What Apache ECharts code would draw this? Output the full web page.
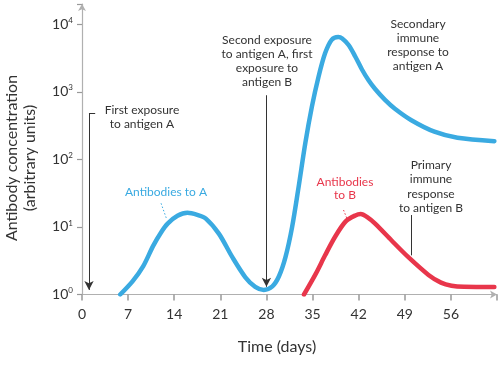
<!DOCTYPE html>
<html><head><meta charset="utf-8">
<script src="https://cdn.jsdelivr.net/npm/echarts@6/dist/echarts.min.js"></script>
<style>html,body{margin:0;padding:0;background:#fff}#c{width:500px;height:365px}</style>
</head><body><div id="c"></div>
<script>
// ---- data (days, antibody concentration in arbitrary units) ----
const xTickValues = [0, 7, 14, 21, 28, 35, 42, 49, 56];
const xTickLabels = ['0', '7', '14', '21', '28', '35', '42', '49', '56'];
const yTickValues = [1, 10, 100, 1000, 10000];
const yTickExponents = ['0', '1', '2', '3', '4'];

const antibodiesA = [
  [5.8, 1.0], [7.7, 1.58], [9.3, 2.63], [10.8, 5.25], [12.0, 8.3], [13.0, 11.2],
  [14.5, 14.6], [16.0, 16.2], [17.5, 15.1], [18.8, 13.3], [20.8, 7.9], [22.8, 3.6],
  [24.8, 1.8], [26.3, 1.3], [27.6, 1.17], [28.9, 1.32], [29.9, 1.86], [30.9, 3.6],
  [31.9, 10], [32.9, 40], [33.9, 174], [34.9, 603], [35.9, 1660], [36.9, 3715],
  [37.9, 5890], [38.9, 6460], [39.5, 6170], [40.5, 4900], [41.5, 3310], [42.5, 2140],
  [43.5, 1480], [44.5, 1100], [46.0, 760], [47.5, 562], [50.0, 380], [53.5, 257],
  [57.0, 209], [62.6, 186]
];
const antibodiesB = [
  [33.7, 1.0], [35.5, 2.04], [36.9, 3.8], [38.4, 7.1], [40.0, 12.0], [41.5, 14.8],
  [42.3, 15.5], [43.3, 14.0], [44.5, 11.2], [47.0, 6.3], [49.5, 3.6], [52.6, 1.95],
  [54.5, 1.5], [56.1, 1.35], [58.0, 1.3], [62.6, 1.29]
];

// annotation anchors in data space [day, concentration]
const firstExposureArrow = [[1.06, 480], [1.06, 1.17]];
const firstExposureHook = [[1.06, 480], [2.0, 480]];
const secondExposureArrow = [[28.0, 890], [28.0, 1.3]];
const primaryBLeader = [[50.0, 15], [50.0, 3.8]];
const labelALeader = [[12.0, 22.4], [12.8, 13.5]];
const labelBLeader = [[39.7, 17.8], [40.2, 13.5]];

const BLUE = '#3aaae1';
const RED = '#e8364b';
const INK = '#333333';
const FONT = 'Lato';

const chart = echarts.init(document.getElementById('c'));

function seg(pts, withArrow, style) {
  const a = { coord: pts[0], symbol: 'none' };
  const b = { coord: pts[1], symbol: withArrow ? 'arrow' : 'none' };
  if (style) { a.lineStyle = style; b.lineStyle = style; }
  return [a, b];
}

const supMap = {};
yTickValues.forEach((v, i) => { supMap[v] = yTickExponents[i]; });

const markLineBase = {
  silent: true, animation: false, symbolSize: [7, 9],
  label: { show: false },
  lineStyle: { color: INK, width: 1, type: 'solid' },
  emphasis: { disabled: true }
};

chart.setOption({
  animation: false,
  backgroundColor: '#fff',
  grid: { left: 82, right: 1, top: 4, bottom: 70.5, containLabel: false },
  xAxis: {
    type: 'value', min: 0, max: 63, interval: 7,
    axisLine: { show: true, lineStyle: { color: '#b0b0b0', width: 1.2 },
      symbol: ['none', 'arrow'], symbolSize: [6, 7] },
    axisTick: { show: true, inside: false, length: 6, lineStyle: { color: '#999', width: 1.5 } },
    axisLabel: {
      margin: 13, color: INK, fontFamily: FONT, fontSize: 14,
      formatter: v => { const i = xTickValues.indexOf(v); return i >= 0 ? xTickLabels[i] : ''; }
    },
    splitLine: { show: false }
  },
  yAxis: {
    type: 'log', logBase: 10, min: 1, max: 19953,
    axisLine: { show: true, lineStyle: { color: '#b0b0b0', width: 1.2 },
      symbol: ['none', 'arrow'], symbolSize: [6, 7] },
    axisTick: { show: true, length: 5, lineStyle: { color: '#999', width: 1.2 } },
    axisLabel: {
      margin: 9, color: INK, fontFamily: FONT, fontSize: 14,
      formatter: v => {
        const key = Math.round(v);
        const e = Math.log10(v);
        if (Math.abs(e - Math.round(e)) > 0.01 || supMap[key] === undefined) return '';
        return '10{s|' + supMap[key] + '}';
      },
      rich: { s: { fontSize: 8, fontFamily: FONT, color: INK, padding: [0, 0, 8, 0] } }
    },
    splitLine: { show: false }
  },
  series: [
    {
      name: 'Antibodies to A', type: 'line', data: antibodiesA, smooth: 0.3,
      showSymbol: false, symbol: 'none', silent: true,
      lineStyle: { color: BLUE, width: 4.5, cap: 'round', join: 'round' },
      markLine: Object.assign({}, markLineBase, {
        data: [
          seg(firstExposureArrow, true),
          seg(firstExposureHook, false),
          seg(secondExposureArrow, true),
          seg(labelALeader, false, { color: BLUE, type: [1.5, 2], width: 1 })
        ]
      })
    },
    {
      name: 'Antibodies to B', type: 'line', data: antibodiesB, smooth: 0.3,
      showSymbol: false, symbol: 'none', silent: true,
      lineStyle: { color: RED, width: 4.5, cap: 'round', join: 'round' },
      markLine: Object.assign({}, markLineBase, {
        data: [
          seg(primaryBLeader, false),
          seg(labelBLeader, false, { color: RED, type: [1.5, 2], width: 1 })
        ]
      })
    }
  ],
  graphic: [
    { type: 'text', x: 21, y: 158, rotation: Math.PI / 2,
      style: { text: 'Antibody concentration\n(arbitrary units)', fill: INK, font: '16px Lato',
        align: 'center', verticalAlign: 'middle', lineHeight: 18 } },
    { type: 'text', x: 277, y: 347,
      style: { text: 'Time (days)', fill: INK, font: '16px Lato', align: 'center', verticalAlign: 'middle' } },
    { type: 'text', x: 142, y: 117,
      style: { text: 'First exposure\nto antigen A', fill: INK, font: '12px Lato', align: 'center', verticalAlign: 'middle', lineHeight: 14 } },
    { type: 'text', x: 166, y: 192,
      style: { text: 'Antibodies to A', fill: BLUE, font: '12px Lato', align: 'center', verticalAlign: 'middle' } },
    { type: 'text', x: 267, y: 61,
      style: { text: 'Second exposure\nto antigen A, first\nexposure to\nantigen B', fill: INK, font: '12px Lato', align: 'center', verticalAlign: 'middle', lineHeight: 14 } },
    { type: 'text', x: 418, y: 45,
      style: { text: 'Secondary\nimmune\nresponse to\nantigen A', fill: INK, font: '12px Lato', align: 'center', verticalAlign: 'middle', lineHeight: 14.2 } },
    { type: 'text', x: 345, y: 188.5,
      style: { text: 'Antibodies\nto B', fill: RED, font: '12px Lato', align: 'center', verticalAlign: 'middle', lineHeight: 13 } },
    { type: 'text', x: 431, y: 186.5,
      style: { text: 'Primary\nimmune\nresponse\nto antigen B', fill: INK, font: '12px Lato', align: 'center', verticalAlign: 'middle', lineHeight: 14.3 } }
  ]
});
</script>
</body></html>
